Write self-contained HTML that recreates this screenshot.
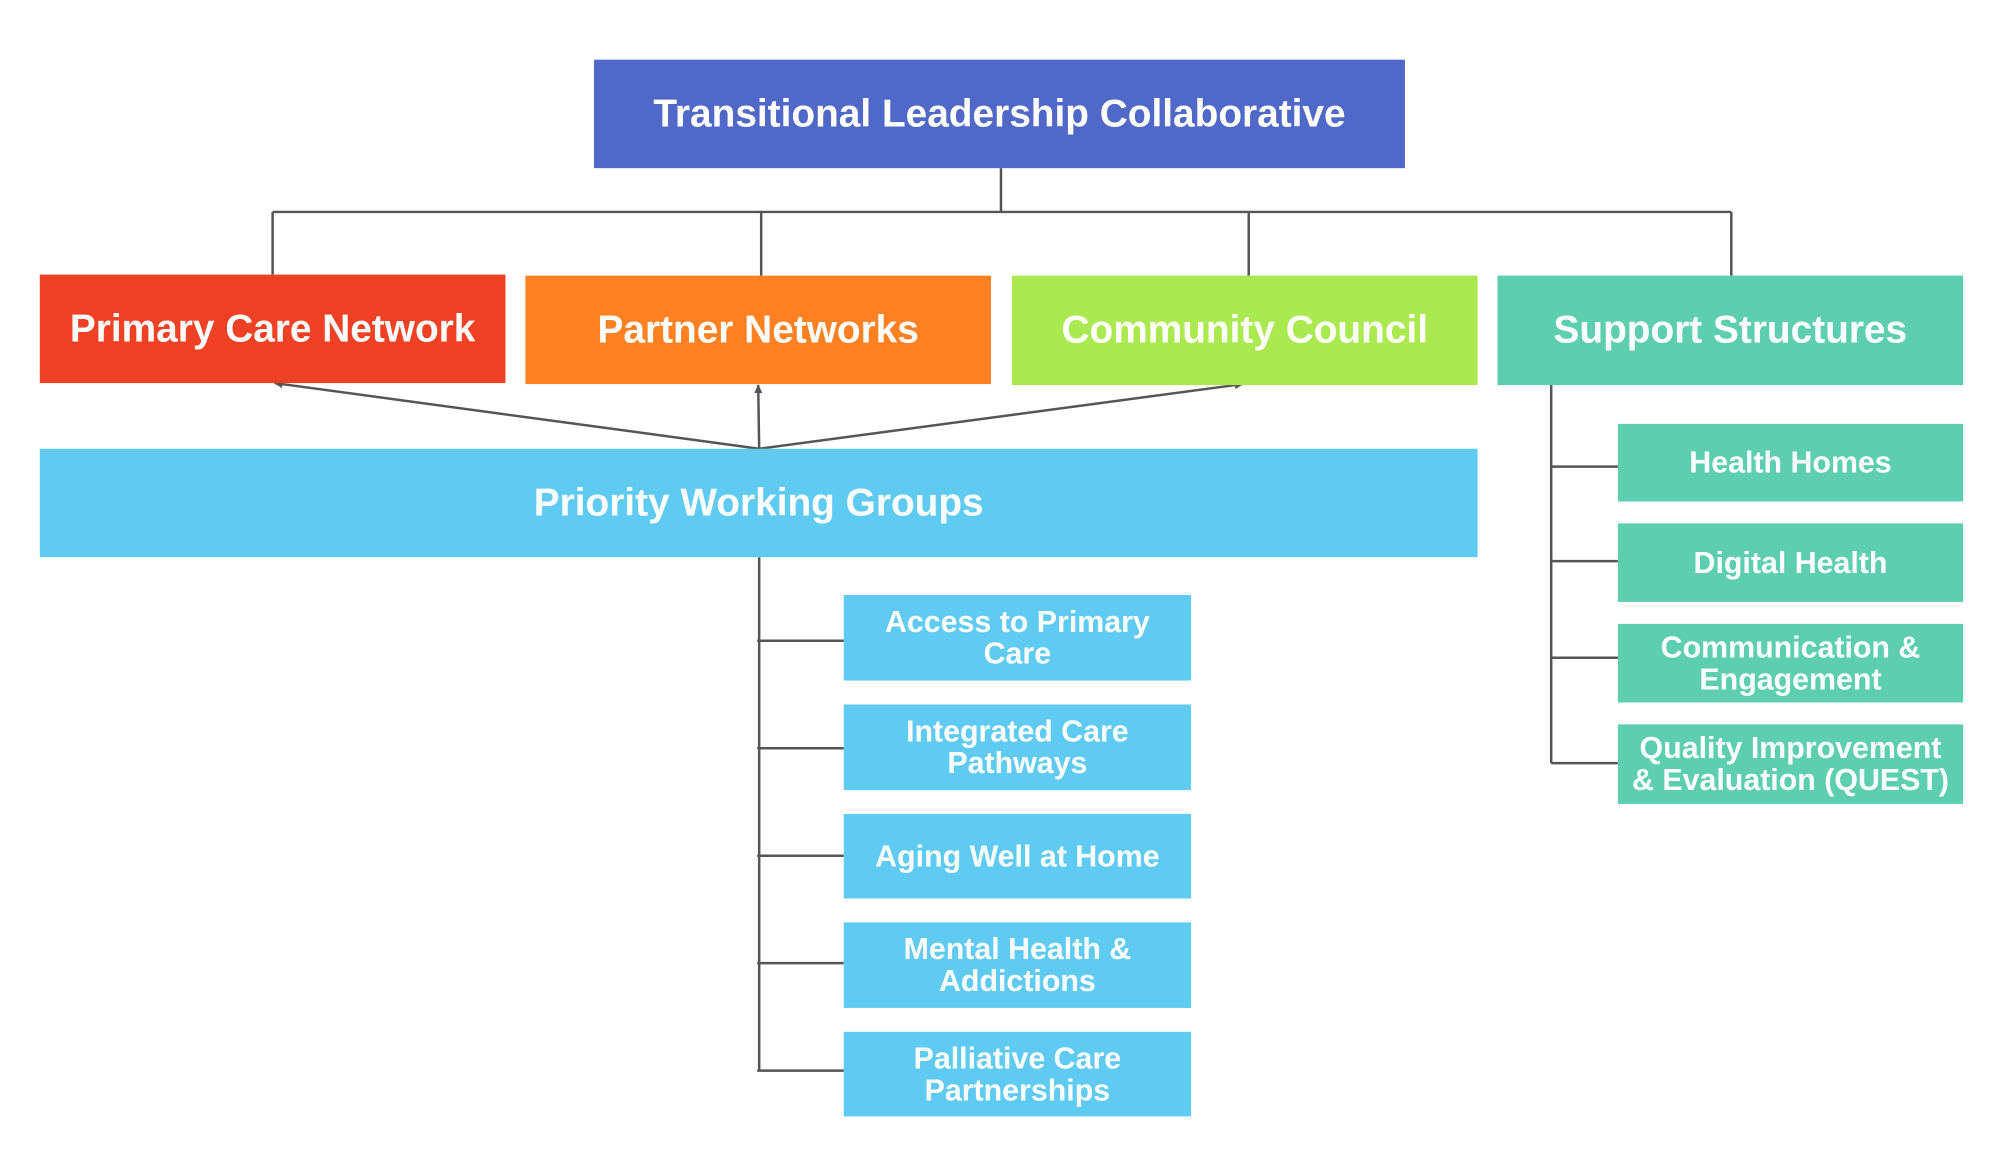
<!DOCTYPE html>
<html><head><meta charset="utf-8"><style>
body{margin:0;background:#fff;}
#o{position:relative;width:2000px;height:1176px;overflow:hidden;}
#c{position:absolute;left:0;top:0;width:2000px;height:1176px;transform:scale(0.995);transform-origin:0 0;font-family:"Liberation Sans",Arial,sans-serif;}
.b{position:absolute;display:flex;align-items:center;justify-content:center;text-align:center;color:#fff;font-weight:bold;box-sizing:border-box;white-space:nowrap;}
.L{font-size:39px;}
.S{font-size:30.5px;line-height:32px;}
</style></head><body><div id="o"><div id="c">
<svg width="2000" height="1176" style="position:absolute;left:0;top:0">
<defs><marker id="a" markerWidth="10" markerHeight="10" refX="8" refY="5" orient="auto" markerUnits="userSpaceOnUse"><path d="M0,1 L9,5 L0,9 z" fill="#555"/></marker></defs>
<g stroke="#555" stroke-width="2.5" fill="none">
<path d="M1006 169 V213 M274 213 H1740 M274 213 V276 M765 213 V277 M1255 213 V277 M1740 213 V277"/>
<path d="M763 451 L276 385" marker-end="url(#a)"/>
<path d="M763 451 L762 387" marker-end="url(#a)"/>
<path d="M763 451 L1249 386" marker-end="url(#a)"/>
<path d="M763 560 V1076 M761 644 H848 M761 752 H848 M761 860 H848 M761 968 H848 M761 1076 H848"/>
<path d="M1559 386 V767 M1559 469 H1626 M1559 564 H1626 M1559 661 H1626 M1559 767 H1626"/>
</g></svg>
<div class="b" style="left:597px;top:60px;width:815px;height:109px;background:#5068C8;font-size:39px">Transitional Leadership Collaborative</div>
<div class="b L" style="left:40px;top:276px;width:468px;height:109px;background:#F04124">Primary Care Network</div>
<div class="b L" style="left:528px;top:277px;width:468px;height:109px;background:#FF8122">Partner Networks</div>
<div class="b L" style="left:1017px;top:277px;width:468px;height:110px;background:#AAEA50">Community Council</div>
<div class="b L" style="left:1505px;top:277px;width:468px;height:110px;background:#5DCFB0">Support Structures</div>
<div class="b L" style="left:40px;top:451px;width:1445px;height:109px;background:#5FCBF2">Priority Working Groups</div>
<div class="b S" style="left:848px;top:598px;width:349px;height:86px;background:#5FCBF2">Access to Primary<br>Care</div>
<div class="b S" style="left:848px;top:708px;width:349px;height:86px;background:#5FCBF2">Integrated Care<br>Pathways</div>
<div class="b S" style="left:848px;top:818px;width:349px;height:85px;background:#5FCBF2">Aging Well at Home</div>
<div class="b S" style="left:848px;top:927px;width:349px;height:86px;background:#5FCBF2">Mental Health &amp;<br>Addictions</div>
<div class="b S" style="left:848px;top:1037px;width:349px;height:85px;background:#5FCBF2">Palliative Care<br>Partnerships</div>
<div class="b S" style="left:1626px;top:426px;width:347px;height:78px;background:#5DCFB0">Health Homes</div>
<div class="b S" style="left:1626px;top:526px;width:347px;height:79px;background:#5DCFB0">Digital Health</div>
<div class="b S" style="left:1626px;top:627px;width:347px;height:79px;background:#5DCFB0">Communication &amp;<br>Engagement</div>
<div class="b S" style="left:1626px;top:728px;width:347px;height:80px;background:#5DCFB0">Quality Improvement<br>&amp; Evaluation (QUEST)</div>
</div></div></body></html>
